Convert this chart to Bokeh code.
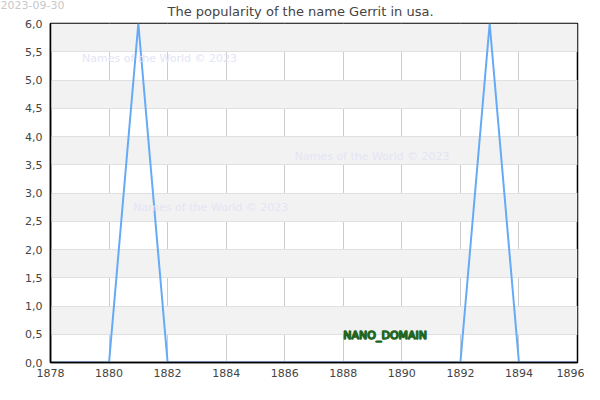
from bokeh.plotting import figure
from bokeh.models import Label, Range1d, FixedTicker, ColumnDataSource
from bokeh.embed import file_html
from bokeh.resources import INLINE

years = [1878, 1879, 1880, 1881, 1882, 1883, 1884, 1885, 1886, 1887,
         1888, 1889, 1890, 1891, 1892, 1893, 1894, 1895, 1896]
counts = [0, 0, 0, 6, 0, 0, 0, 0, 0, 0,
          0, 0, 0, 0, 0, 6, 0, 0, 0]

x_ticks = [1878, 1880, 1882, 1884, 1886, 1888, 1890, 1892, 1894, 1896]
y_ticks = [0.0, 0.5, 1.0, 1.5, 2.0, 2.5, 3.0, 3.5, 4.0, 4.5, 5.0, 5.5, 6.0]
y_tick_labels = ["0,0", "0,5", "1,0", "1,5", "2,0", "2,5", "3,0", "3,5",
                 "4,0", "4,5", "5,0", "5,5", "6,0"]

title_text = "The popularity of the name Gerrit in usa."
date_text = "2023-09-30"
watermark_text = "Names of the World © 2023"
watermark_pos = [(1879.08, 5.38), (1886.34, 3.65), (1880.83, 2.75)]
domain_text = "NANO_DOMAIN"
domain_pos = (1888.0, 0.48)

FONT = "DejaVu Sans"

p = figure(width=584, height=384, output_backend="svg", toolbar_location=None,
           x_range=Range1d(1878, 1896), y_range=Range1d(0, 6),
           min_border_left=50, min_border_right=7, min_border_top=15,
           min_border_bottom=22)
p.title.visible = False
p.background_fill_color = "white"
p.border_fill_color = "white"
p.outline_line_color = "black"
p.outline_line_width = 1.5

# grids
p.xgrid.ticker = FixedTicker(ticks=x_ticks)
p.xgrid.grid_line_color = "#cccccc"
p.ygrid.ticker = FixedTicker(ticks=y_ticks)
p.ygrid.grid_line_color = "#e0e0e0"
p.ygrid.band_fill_color = "#f2f2f2"
p.ygrid.band_fill_alpha = 1.0

# axes
p.xaxis.ticker = FixedTicker(ticks=x_ticks)
p.yaxis.ticker = FixedTicker(ticks=y_ticks)
p.yaxis.major_label_overrides = {t: s for t, s in zip(y_ticks, y_tick_labels)}
p.xaxis.major_label_overrides = {t: str(t) for t in x_ticks}
for ax in (p.xaxis, p.yaxis):
    ax.axis_line_color = "black"
    ax.axis_line_width = 1.5
    ax.major_tick_in = 0
    ax.major_tick_out = 0
    ax.minor_tick_in = 0
    ax.minor_tick_out = 0
    ax.major_label_text_font = FONT
    ax.major_label_text_font_size = "11px"
    ax.major_label_text_color = "#444444"
p.yaxis.major_label_standoff = 8
p.xaxis.major_label_standoff = 6

# watermarks
for (wx, wy) in watermark_pos:
    p.add_layout(Label(x=wx, y=wy, text=watermark_text, text_font=FONT,
                       text_font_size="11px", text_color="#e4e4f6",
                       text_baseline="middle", text_align="left"))

src = ColumnDataSource(dict(x=years, y=counts))
p.line("x", "y", source=src, line_color="#66aaf5", line_width=2)

p.add_layout(Label(x=domain_pos[0], y=domain_pos[1], text=domain_text,
                   text_font=FONT, text_font_size="11px",
                   text_color="#66bb55", text_outline_color="#226622",
                   text_baseline="middle", text_align="left"))

# title and date stamp in the top border
p.add_layout(Label(x=250, y=12, x_units="screen", y_units="screen",
                   text=title_text, text_font=FONT, text_font_size="13px",
                   text_color="#444444", text_align="center",
                   text_baseline="middle"), "above")
p.add_layout(Label(x=-50, y=8, x_units="screen", y_units="screen",
                   text=date_text, text_font=FONT, text_font_size="11px",
                   text_color="#c8c8c8", text_align="left",
                   text_baseline="top"), "above")

open("out.html", "w").write(file_html(p, INLINE))
